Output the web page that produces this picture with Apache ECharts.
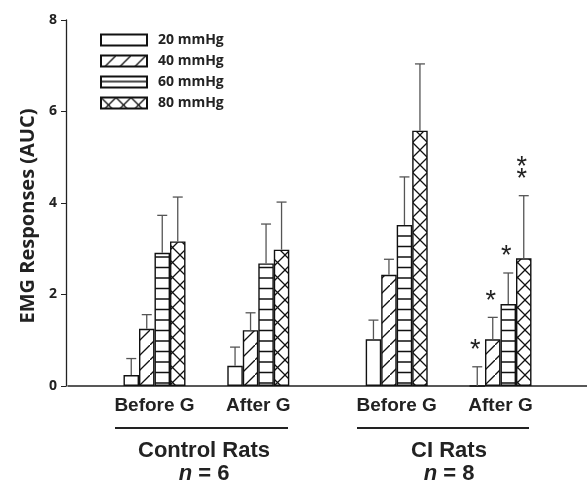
<!DOCTYPE html>
<html>
<head>
<meta charset="utf-8">
<script src="https://cdn.jsdelivr.net/npm/echarts@6/dist/echarts.min.js"></script>
<style>
	html, body { margin: 0; padding: 0; background: #fff; }
	#main { width: 587px; height: 485px; }
</style>
</head>
<body>
<div id="main"></div>
<script>
// groups on the x axis, placed in slots of a 15-slot category axis
var categories = ['Before G', 'After G', 'Before G', 'After G'];
var slots = [2, 5, 9, 12];
var nSlots = 15;
var pressures = ['20 mmHg', '40 mmHg', '60 mmHg', '80 mmHg'];
var yTicks = [0, 2, 4, 6, 8];

// mean AUC and SEM for each pressure
var mean20 = [0.24, 0.44, 1.02, 0.0];
var sem20 = [0.36, 0.41, 0.42, 0.42];
var mean40 = [1.25, 1.22, 2.43, 1.02];
var sem40 = [0.31, 0.38, 0.34, 0.48];
var mean60 = [2.91, 2.68, 3.52, 1.79];
var sem60 = [0.82, 0.86, 1.05, 0.68];
var mean80 = [3.16, 2.98, 5.58, 2.79];
var sem80 = [0.97, 1.04, 1.46, 1.37];
var sig20 = ['', '', '', '*'];
var sig40 = ['', '', '', '*'];
var sig60 = ['', '', '', '*'];
var sig80 = ['', '', '', '**'];

var groupNames = ['Control Rats', 'CI Rats'];
var groupN = ['6', '8'];

var means = [mean20, mean40, mean60, mean80];
var sems = [sem20, sem40, sem60, sem80];
var sigs = [sig20, sig40, sig60, sig80];

var barW = 15.5;

function hatch(kind) {
	var c = document.createElement('canvas');
	var w = 15, h = 15;
	if (kind === 'horiz') { w = 8; h = 21; }
	c.width = w; c.height = h;
	var ctx = c.getContext('2d');
	ctx.fillStyle = '#fff';
	ctx.fillRect(0, 0, w, h);
	ctx.strokeStyle = '#111';
	ctx.lineWidth = 1.3;
	ctx.beginPath();
	if (kind === 'diag' || kind === 'cross') {
		ctx.moveTo(-2, h + 2); ctx.lineTo(w + 2, -2);
	}
	if (kind === 'cross') {
		ctx.moveTo(-2, -2); ctx.lineTo(w + 2, h + 2);
	}
	if (kind === 'horiz') {
		ctx.moveTo(0, 5); ctx.lineTo(w, 5);
		ctx.moveTo(0, 15.5); ctx.lineTo(w, 15.5);
	}
	ctx.stroke();
	if (kind === 'plain') return '#fff';
	return { image: c, repeat: 'repeat' };
}
var fills = [hatch('plain'), hatch('diag'), hatch('horiz'), hatch('cross')];

var xLabels = [];
for (var i = 0; i < nSlots; i++) xLabels.push('');
for (var i = 0; i < slots.length; i++) xLabels[slots[i]] = categories[i];

function errRender(k) {
	return function (params, api) {
		var idx = api.value(0);
		var m = api.value(1);
		var s = api.value(2);
		var sig = sigs[k][params.dataIndex];
		var p0 = api.coord([idx, m]);
		var p1 = api.coord([idx, m + s]);
		var x = p0[0] + (k - 1.5) * barW;
		var style = { stroke: '#555', lineWidth: 1.3 };
		var children = [
			{ type: 'line', shape: { x1: x, y1: p0[1], x2: x, y2: p1[1] }, style: style },
			{ type: 'line', shape: { x1: x - 5, y1: p1[1], x2: x + 5, y2: p1[1] }, style: style }
		];
		for (var j = 0; j < sig.length; j++) {
			children.push({
				type: 'text',
				style: {
					text: '*', x: x - 2, y: p1[1] - 16 - 12 * j,
					align: 'center', verticalAlign: 'middle',
					font: '27px "Liberation Sans"', fill: '#222'
				}
			});
		}
		return { type: 'group', children: children };
	};
}

var series = [];
for (var k = 0; k < 4; k++) {
	var d = [];
	for (var i = 0; i < slots.length; i++) d.push([slots[i], means[k][i]]);
	series.push({
		name: pressures[k],
		type: 'bar',
		barWidth: barW,
		barGap: '0%',
		data: d,
		itemStyle: { color: fills[k], borderColor: '#111', borderWidth: 1.4 },
		z: 2
	});
}
for (var k = 0; k < 4; k++) {
	var e = [];
	for (var i = 0; i < slots.length; i++) e.push([slots[i], means[k][i], sems[k][i]]);
	series.push({
		type: 'custom',
		renderItem: errRender(k),
		data: e,
		z: 3,
		silent: true
	});
}

var chartDom = document.getElementById('main');
var myChart = echarts.init(chartDom);
var option;

option = {
	animation: false,
	backgroundColor: '#fff',
	grid: { left: 68, right: -3, top: 20, bottom: 99 },
	legend: {
		data: pressures,
		orient: 'vertical',
		left: 95,
		top: 28,
		icon: 'rect',
		itemWidth: 46,
		itemHeight: 11,
		itemGap: 7,
		textStyle: {
			fontFamily: 'Open Sans', fontWeight: 'bold', fontSize: 14,
			color: '#222', padding: [0, 0, 0, 6]
		}
	},
	xAxis: {
		type: 'category',
		data: xLabels,
		axisLine: { lineStyle: { color: '#222', width: 1.5 } },
		axisTick: { show: false },
		axisLabel: {
			interval: 0, margin: 10,
			fontFamily: 'Liberation Sans', fontWeight: 'bold', fontSize: 19, color: '#222'
		}
	},
	yAxis: {
		type: 'value',
		min: yTicks[0],
		max: yTicks[yTicks.length - 1],
		interval: 2,
		offset: 2,
		name: 'EMG Responses (AUC)',
		nameLocation: 'middle',
		nameGap: 27,
		nameTextStyle: {
			fontFamily: 'Open Sans', fontWeight: 'bold', fontSize: 20, color: '#222',
			padding: [0, 26, 0, 0]
		},
		axisLine: { show: true, lineStyle: { color: '#222', width: 1.3 } },
		axisTick: { show: true, length: 5, lineStyle: { color: '#222' } },
		splitLine: { show: false },
		axisLabel: { margin: 9, fontFamily: 'Open Sans', fontWeight: 'bold', fontSize: 14, color: '#222' }
	},
	graphic: [
		{ type: 'line', shape: { x1: 115, y1: 428, x2: 288, y2: 428 }, style: { stroke: '#222', lineWidth: 2 } },
		{ type: 'line', shape: { x1: 357, y1: 428, x2: 529, y2: 428 }, style: { stroke: '#222', lineWidth: 2 } },
		{ type: 'text', x: 204, y: 451, style: { text: groupNames[0], align: 'center', verticalAlign: 'middle', font: 'bold 22px "Liberation Sans"', fill: '#222' } },
		{ type: 'text', x: 449, y: 451, style: { text: groupNames[1], align: 'center', verticalAlign: 'middle', font: 'bold 22px "Liberation Sans"', fill: '#222' } },
		{ type: 'text', x: 204, y: 474, style: { text: '{i|n} = ' + groupN[0], align: 'center', verticalAlign: 'middle', font: 'bold 22px "Liberation Sans"', fill: '#222', rich: { i: { fontStyle: 'italic', fontWeight: 'bold', fontSize: 22, fontFamily: 'Liberation Sans', fill: '#222' } } } },
		{ type: 'text', x: 449, y: 474, style: { text: '{i|n} = ' + groupN[1], align: 'center', verticalAlign: 'middle', font: 'bold 22px "Liberation Sans"', fill: '#222', rich: { i: { fontStyle: 'italic', fontWeight: 'bold', fontSize: 22, fontFamily: 'Liberation Sans', fill: '#222' } } } }
	],
	series: series
};

option && myChart.setOption(option);
</script>
</body>
</html>
